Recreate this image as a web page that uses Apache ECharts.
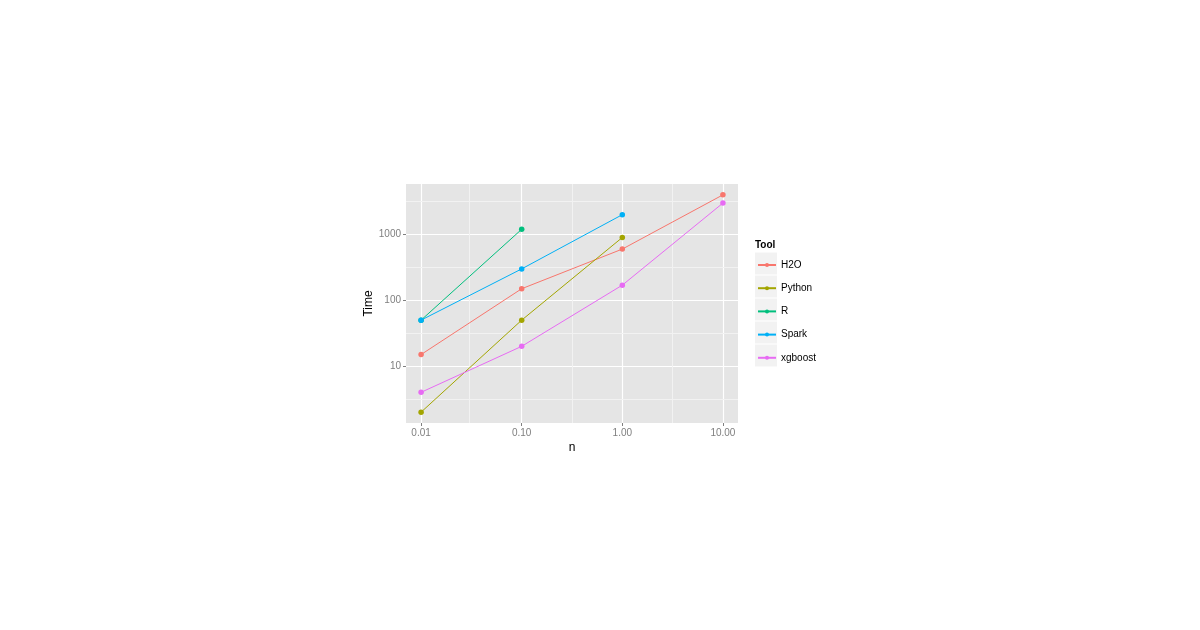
<!DOCTYPE html>
<html>
<head>
<meta charset="utf-8">
<script src="https://cdn.jsdelivr.net/npm/echarts@6/dist/echarts.min.js"></script>
<style>
html,body{margin:0;padding:0;background:#fff;}
#chart{width:1200px;height:630px;}
</style>
</head>
<body>
<div id="chart"></div>
<script>
// ---- data ----
const nValues = [0.01, 0.1, 1, 10];
const h2o = [15, 150, 600, 4000];
const python = [2, 50, 900, null];
const rTool = [50, 1200, null, null];
const spark = [50, 300, 2000, null];
const xgboost = [4, 20, 170, 3000];
const toolNames = ['H2O', 'Python', 'R', 'Spark', 'xgboost'];
const toolColors = ['#F8766D', '#A3A500', '#00BF7D', '#00B0F6', '#E76BF3'];
// tick breaks / labels
const xBreaks = [0.01, 0.1, 1, 10];
const xTickLabels = ['0.01', '0.10', '1.00', '10.00'];
const yBreaks = [10, 100, 1000];
const yTickLabels = ['10', '100', '1000'];
const xMinorBreaks = [0.0316, 0.316, 3.16];
const yMinorBreaks = [3.16, 31.6, 316, 3162];

const toolValues = [h2o, python, rTool, spark, xgboost];

function pairs(vals) {
  const out = [];
  vals.forEach((v, i) => { if (v != null) out.push([nValues[i], v]); });
  return out;
}
function labelFor(value, breaks, labels) {
  for (let i = 0; i < breaks.length; i++) {
    if (Math.abs(Math.log10(value) - Math.log10(breaks[i])) < 1e-6) return labels[i];
  }
  return '';
}

const chart = echarts.init(document.getElementById('chart'), null, {renderer: 'canvas'});

const series = toolNames.map((name, i) => ({
  name: name,
  type: 'line',
  data: pairs(toolValues[i]),
  symbol: 'circle',
  symbolSize: 5.5,
  showSymbol: true,
  itemStyle: {color: toolColors[i]},
  lineStyle: {color: toolColors[i], width: 1},
  z: 3,
  animation: false
}));

series.push({
  type: 'line',
  data: [],
  z: 1,
  silent: true,
  animation: false,
  markLine: {
    silent: true,
    z: 1,
    symbol: ['none', 'none'],
    label: {show: false},
    lineStyle: {color: '#F2F2F2', width: 1, type: 'solid'},
    emphasis: {disabled: true},
    animation: false,
    data: xMinorBreaks.map(v => ({xAxis: v})).concat(yMinorBreaks.map(v => ({yAxis: v})))
  }
});

const keyRects = toolNames.map((n, i) => ({
  type: 'rect',
  shape: {x: 755, y: 252.5 + 23 * i, width: 22, height: 22},
  style: {fill: '#F2F2F2'},
  z: -1
}));

chart.setOption({
  animation: false,
  backgroundColor: '#ffffff',
  textStyle: {fontFamily: 'Liberation Sans, Arial, sans-serif'},
  title: {
    text: 'Tool',
    left: 750,
    top: 235,
    textStyle: {fontSize: 10, fontWeight: 'bold', color: '#000', fontFamily: 'Liberation Sans, Arial, sans-serif'}
  },
  graphic: keyRects,
  legend: {
    orient: 'vertical',
    left: 757,
    top: 259,
    padding: 0,
    itemWidth: 18,
    itemHeight: 5,
    itemGap: 11.2,
    data: toolNames,
    textStyle: {fontSize: 10, color: '#000', lineHeight: 12, fontFamily: 'Liberation Sans, Arial, sans-serif'},
    selectedMode: false
  },
  grid: {
    left: 406,
    right: 462,
    top: 184,
    bottom: 207,
    show: true,
    backgroundColor: '#E5E5E5',
    borderWidth: 0
  },
  xAxis: {
    type: 'log',
    logBase: 10,
    min: 0.0070795,
    max: 14.125,
    name: 'n',
    nameLocation: 'middle',
    nameGap: 19,
    nameTextStyle: {fontSize: 12, color: '#000'},
    axisLine: {show: false},
    axisTick: {show: true, length: 3, customValues: xBreaks, lineStyle: {color: '#7F7F7F'}},
    axisLabel: {
      fontSize: 10, color: '#7F7F7F', margin: 5,
      customValues: xBreaks,
      formatter: v => labelFor(v, xBreaks, xTickLabels)
    },
    splitLine: {show: true, lineStyle: {color: '#FFFFFF', width: 1.2}},
    minorTick: {show: false},
    minorSplitLine: {show: false}
  },
  yAxis: {
    type: 'log',
    logBase: 10,
    min: 1.368,
    max: 5848,
    name: 'Time',
    nameLocation: 'middle',
    nameGap: 30,
    nameRotate: 90,
    nameTextStyle: {fontSize: 12, color: '#000'},
    axisLine: {show: false},
    axisTick: {show: true, length: 3, customValues: yBreaks, lineStyle: {color: '#7F7F7F'}},
    axisLabel: {
      fontSize: 10, color: '#7F7F7F', margin: 5,
      customValues: yBreaks,
      formatter: v => labelFor(v, yBreaks, yTickLabels)
    },
    splitLine: {show: true, lineStyle: {color: '#FFFFFF', width: 1.2}}
  },
  series: series
});
</script>
</body>
</html>
